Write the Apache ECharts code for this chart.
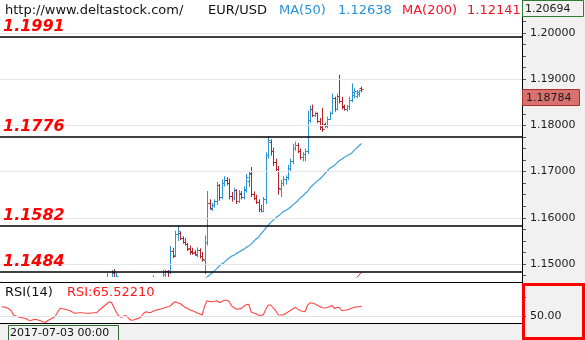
<!DOCTYPE html>
<html>
<head>
<meta charset="utf-8">
<script src="https://cdn.jsdelivr.net/npm/echarts@6/dist/echarts.min.js"></script>
<style>
  html, body { margin: 0; padding: 0; background: #ffffff; }
  #chart { width: 585px; height: 340px; }
</style>
</head>
<body>
<div id="chart"></div>
<script>
// EUR/USD, H4 bars from 2017-07-03 00:00: [open, high, low, close]
const bars = [
  [1.1426,1.1445,1.1418,1.1432],[1.1432,1.1440,1.1405,1.1410],[1.1410,1.1418,1.1385,1.1392],[1.1392,1.1402,1.1372,1.1380],
  [1.1380,1.1395,1.1368,1.1388],[1.1388,1.1396,1.1375,1.1381],[1.1381,1.1390,1.1360,1.1365],[1.1365,1.1378,1.1350,1.1358],
  [1.1358,1.1372,1.1345,1.1366],[1.1366,1.1380,1.1352,1.1362],[1.1362,1.1375,1.1340,1.1348],[1.1348,1.1366,1.1345,1.1357],
  [1.1357,1.1362,1.1322,1.1330],[1.1330,1.1352,1.1312,1.1345],[1.1345,1.1370,1.1338,1.1362],[1.1362,1.1368,1.1345,1.1350],
  [1.1350,1.1372,1.1344,1.1368],[1.1368,1.1376,1.1352,1.1356],[1.1356,1.1395,1.1350,1.1388],[1.1388,1.1420,1.1380,1.1415],
  [1.1415,1.1432,1.1398,1.1405],[1.1405,1.1420,1.1392,1.1410],[1.1410,1.1418,1.1385,1.1398],[1.1398,1.1425,1.1390,1.1418],
  [1.1418,1.1432,1.1405,1.1422],[1.1422,1.1440,1.1412,1.1415],[1.1415,1.1428,1.1400,1.1408],[1.1408,1.1422,1.1395,1.1418],
  [1.1418,1.1430,1.1405,1.1412],[1.1412,1.1425,1.1398,1.1405],[1.1405,1.1415,1.1388,1.1398],[1.1398,1.1412,1.1385,1.1406],
  [1.1406,1.1418,1.1395,1.1401],[1.1401,1.1408,1.1378,1.1390],[1.1390,1.1405,1.1382,1.1398],[1.1398,1.1412,1.1390,1.1404],
  [1.1404,1.1420,1.1398,1.1415],[1.1415,1.1440,1.1408,1.1432],[1.1432,1.1455,1.1425,1.1448],[1.1448,1.1466,1.1440,1.1460],
  [1.1460,1.1470,1.1435,1.1442],[1.1442,1.1462,1.1430,1.1455],[1.1455,1.1468,1.1445,1.1450],[1.1450,1.1481,1.1445,1.1472],
  [1.1468,1.1471,1.1450,1.1462],[1.1462,1.1487,1.1455,1.1480],[1.1482,1.1489,1.1450,1.1458],[1.1458,1.1481,1.1452,1.1475],
  [1.1468,1.1470,1.1440,1.1445],[1.1445,1.1455,1.1425,1.1432],[1.1432,1.1445,1.1418,1.1440],[1.1440,1.1452,1.1428,1.1436],
  [1.1436,1.1442,1.1405,1.1412],[1.1412,1.1425,1.1392,1.1400],[1.1400,1.1418,1.1390,1.1410],[1.1410,1.1445,1.1405,1.1438],
  [1.1438,1.1462,1.1430,1.1455],[1.1455,1.1466,1.1440,1.1448],[1.1448,1.1460,1.1438,1.1452],[1.1452,1.1465,1.1445,1.1458],
  [1.1458,1.1468,1.1448,1.1455],[1.1455,1.1466,1.1450,1.1462],[1.1468,1.1475,1.1450,1.1458],[1.1458,1.1466,1.1448,1.1460],
  [1.1460,1.1470,1.1452,1.1465],[1.1465,1.1470,1.1455,1.1466],[1.1466,1.1487,1.1460,1.1478],[1.1478,1.1488,1.1470,1.1484],
  [1.1484,1.1487,1.1472,1.1482],[1.1482,1.1539,1.1478,1.1528],[1.1528,1.1535,1.1513,1.1518],[1.1520,1.1572,1.1515,1.1566],
  [1.1566,1.1583,1.1550,1.1572],[1.1568,1.1570,1.1552,1.1556],[1.1556,1.1560,1.1544,1.1548],[1.1548,1.1556,1.1540,1.1544],
  [1.1544,1.1546,1.1528,1.1533],[1.1534,1.1540,1.1520,1.1526],[1.1528,1.1535,1.1520,1.1523],[1.1526,1.1530,1.1518,1.1521],
  [1.1519,1.1536,1.1515,1.1530],[1.1530,1.1534,1.1512,1.1518],[1.1518,1.1526,1.1505,1.1510],[1.1508,1.1562,1.1478,1.1548],
  [1.1548,1.1658,1.1540,1.1632],[1.1632,1.1640,1.1618,1.1622],[1.1620,1.1632,1.1615,1.1628],[1.1628,1.1640,1.1622,1.1636],
  [1.1636,1.1678,1.1628,1.1670],[1.1670,1.1673,1.1637,1.1645],[1.1645,1.1683,1.1640,1.1676],[1.1676,1.1690,1.1668,1.1682],
  [1.1682,1.1688,1.1670,1.1675],[1.1676,1.1685,1.1640,1.1648],[1.1648,1.1656,1.1635,1.1642],[1.1642,1.1665,1.1638,1.1660],
  [1.1660,1.1662,1.1630,1.1636],[1.1636,1.1660,1.1632,1.1654],[1.1652,1.1658,1.1640,1.1645],[1.1645,1.1668,1.1640,1.1662],
  [1.1660,1.1695,1.1655,1.1688],[1.1680,1.1700,1.1667,1.1695],[1.1698,1.1710,1.1645,1.1652],[1.1652,1.1657,1.1638,1.1642],
  [1.1642,1.1650,1.1630,1.1635],[1.1635,1.1640,1.1612,1.1618],[1.1620,1.1628,1.1612,1.1615],[1.1615,1.1645,1.1612,1.1640],
  [1.1640,1.1742,1.1630,1.1735],[1.1735,1.1776,1.1728,1.1768],[1.1765,1.1770,1.1735,1.1745],[1.1745,1.1752,1.1712,1.1720],
  [1.1720,1.1728,1.1700,1.1705],[1.1705,1.1712,1.1650,1.1665],[1.1662,1.1682,1.1645,1.1676],[1.1675,1.1690,1.1668,1.1684],
  [1.1684,1.1692,1.1672,1.1688],[1.1688,1.1715,1.1682,1.1708],[1.1708,1.1728,1.1700,1.1722],[1.1722,1.1760,1.1716,1.1752],
  [1.1752,1.1765,1.1745,1.1758],[1.1758,1.1762,1.1740,1.1745],[1.1745,1.1750,1.1726,1.1732],[1.1732,1.1742,1.1722,1.1738],
  [1.1738,1.1750,1.1722,1.1745],[1.1745,1.1832,1.1738,1.1812],[1.1812,1.1843,1.1806,1.1835],[1.1835,1.1845,1.1818,1.1822],
  [1.1822,1.1830,1.1818,1.1828],[1.1826,1.1828,1.1805,1.1810],[1.1810,1.1816,1.1790,1.1797],[1.1800,1.1838,1.1786,1.1792],
  [1.1803,1.1806,1.1795,1.1798],[1.1798,1.1819,1.1794,1.1815],[1.1815,1.1830,1.1812,1.1826],[1.1826,1.1869,1.1824,1.1860],
  [1.1860,1.1862,1.1830,1.1836],[1.1836,1.1869,1.1833,1.1864],[1.1864,1.1910,1.1848,1.1852],[1.1852,1.1862,1.1835,1.1840],
  [1.1842,1.1845,1.1832,1.1835],[1.1835,1.1844,1.1830,1.1841],[1.1841,1.1862,1.1833,1.1856],[1.1856,1.1891,1.1850,1.1872],
  [1.1866,1.1880,1.1859,1.1874],[1.1864,1.1877,1.1859,1.1872],[1.1868,1.1877,1.1862,1.1876],[1.1881,1.1884,1.1872,1.18784]
];

// Moving averages (first bar index where each one starts)
const ma50Start = 70;
const ma50 = [
  1.1426,1.1430,1.1433,1.1436,1.1439,1.1443,1.1446,1.1449,1.1452,1.1456,
  1.1459,1.1462,1.1465,1.1468,1.1472,1.1476,1.1481,1.1485,1.1490,1.1496,
  1.1500,1.1504,1.1509,1.1513,1.1517,1.1519,1.1523,1.1526,1.1529,1.1532,
  1.1536,1.1539,1.1543,1.1549,1.1554,1.1558,1.1565,1.1571,1.1578,1.1584,
  1.1590,1.1595,1.1600,1.1604,1.1608,1.1613,1.1616,1.1619,1.1623,1.1628,
  1.1632,1.1637,1.1643,1.1647,1.1653,1.1657,1.1665,1.1670,1.1675,1.1680,
  1.1684,1.1689,1.1695,1.1701,1.1707,1.1710,1.1714,1.1719,1.1724,1.1727,
  1.1731,1.1734,1.1737,1.1740,1.1746,1.1751,1.1756,1.1761
];
const ma200Start = 144;
const ma200 = [1.1465, 1.1470, 1.1476, 1.1482];

// RSI(14), one value per bar
const rsi14 = [
  64.9,64.5,63.7,62.2,59.2,52.3,50.8,49.2,48.5,47.7,
  46.8,44.6,43.8,44.9,45.7,44.6,43.4,41.8,40.8,43.8,
  45.8,47.7,50.0,56.9,62.6,61.8,61.1,60.0,59.1,56.9,
  55.1,55.4,55.7,55.8,55.4,55.1,54.9,55.4,55.7,55.8,
  60.0,63.1,66.2,69.2,72.6,71.4,63.8,56.2,50.5,48.9,
  50.8,51.5,46.9,44.2,44.6,46.0,46.8,49.2,54.6,57.2,
  56.3,56.2,58.2,59.7,60.6,61.5,62.6,63.8,65.1,66.2,
  70.0,72.6,71.1,70.0,66.9,64.2,62.2,60.0,58.8,57.2,
  55.5,53.8,52.3,66.2,74.2,73.1,72.9,73.5,74.3,71.5,
  72.9,75.1,74.9,73.1,66.3,63.4,61.2,61.7,62.5,65.8,
  68.3,68.9,56.9,55.5,54.2,52.0,51.7,53.1,61.5,67.7,
  67.7,63.1,58.8,52.6,52.3,52.3,54.6,56.9,59.2,61.8,
  63.8,61.4,58.9,58.2,57.4,67.4,70.9,70.8,69.2,67.4,
  65.4,63.4,63.1,63.8,65.1,67.1,62.2,64.2,63.8,58.9,
  59.5,60.0,61.2,62.6,63.8,64.9,65.1,65.5221
];

// Horizontal levels and axis ticks
const levels = [1.1991, 1.1776, 1.1582, 1.1484];
const priceTicks = [1.15, 1.16, 1.17, 1.18, 1.19, 1.20];
const rsiTicks = [50];
const priceMax = 1.20694;
const firstBarTime = '2017-07-03 00:00';
const headerTexts = ['http://www.deltastock.com/', 'EUR/USD'];
const maHeader = [['MA(50)', '1.12638'], ['MA(200)', '1.12141']];

const SLOTS = 213;            // bar slots across the plot, incl. empty space on the right
const PRICE_MIN = 1.147186;
const FONT = '"DejaVu Sans"';
const BLUE = '#2c94d2';
const RED = '#b52327';

const slotNames = Array.from({ length: SLOTS }, (_, i) => String(i));
const ohlcData = bars.map((b, i) => [i, b[0], b[3], b[2], b[1]]);
const ma50Data = ma50.map((v, k) => [ma50Start + k, v]);
const ma200Data = ma200.map((v, k) => [ma200Start + k, v]);
const rsiData = rsi14.map((v, i) => [i, v]);

const minorTicks = [];
for (let k = 0; k <= 23; k++) minorTicks.push(+(1.1475 + k * 0.0025).toFixed(4));

// OHLC bar: high-low stroke, open tick to the left, close tick to the right
function renderOhlc(params, api) {
  const i = api.value(0);
  const o = api.value(1), c = api.value(2);
  const pO = api.coord([i, o]);
  const pC = api.coord([i, c]);
  const pL = api.coord([i, api.value(3)]);
  const pH = api.coord([i, api.value(4)]);
  const x = Math.round(pO[0]) + 0.5;
  const yo = Math.round(pO[1]) + 0.5;
  const yc = Math.round(pC[1]) + 0.5;
  const color = c >= o ? BLUE : RED;
  const st = { stroke: color, lineWidth: 1 };
  return {
    type: 'group',
    children: [
      { type: 'line', shape: { x1: x, y1: pH[1], x2: x, y2: pL[1] }, style: st },
      { type: 'line', shape: { x1: x - 2, y1: yo, x2: x, y2: yo }, style: st },
      { type: 'line', shape: { x1: x, y1: yc, x2: x + 2, y2: yc }, style: st }
    ]
  };
}

const chart = echarts.init(document.getElementById('chart'), null, { renderer: 'canvas' });

chart.setOption({
  animation: false,
  backgroundColor: '#ffffff',
  grid: [
    { left: 0, top: 1, width: 522, height: 276, show: false },
    { left: 0, top: 284, width: 522, height: 39, show: false }
  ],
  xAxis: [
    { type: 'category', gridIndex: 0, data: slotNames, boundaryGap: true, show: false },
    { type: 'category', gridIndex: 1, data: slotNames, boundaryGap: true, show: false }
  ],
  yAxis: [
    {
      type: 'value', gridIndex: 0, position: 'right', min: PRICE_MIN, max: priceMax,
      axisLine: { show: false },
      axisTick: { show: true, inside: false, length: 4, customValues: minorTicks, lineStyle: { color: '#555555' } },
      axisLabel: {
        customValues: priceTicks, formatter: v => v.toFixed(5), margin: 8,
        color: '#1c1c1c', fontFamily: FONT, fontSize: 11
      },
      splitLine: { show: false }
    },
    {
      type: 'value', gridIndex: 1, position: 'right', min: 40, max: 100,
      axisLine: { show: false },
      axisTick: { show: true, length: 4, customValues: [50, 80], lineStyle: { color: '#555555' } },
      axisLabel: {
        customValues: rsiTicks, formatter: v => v.toFixed(2), margin: 8,
        color: '#1c1c1c', fontFamily: FONT, fontSize: 11
      },
      splitLine: { show: false }
    }
  ],
  series: [
    {
      name: 'MA(200)', type: 'line', xAxisIndex: 0, yAxisIndex: 0, data: ma200Data, z: 1,
      showSymbol: false, lineStyle: { color: '#e8242a', width: 1 }, clip: true,
      markLine: {
        silent: true, symbol: ['none', 'none'], animation: false, precision: 6, label: { show: false },
        lineStyle: { color: '#e6e6e6', width: 1, type: 'solid' },
        data: priceTicks.map(v => ({ yAxis: v }))
      }
    },
    {
      name: 'EUR/USD', type: 'custom', xAxisIndex: 0, yAxisIndex: 0, clip: true, z: 3,
      renderItem: renderOhlc, data: ohlcData,
      encode: { x: 0, y: [1, 2, 3, 4] }
    },
    {
      name: 'MA(50)', type: 'line', xAxisIndex: 0, yAxisIndex: 0, data: ma50Data, z: 2,
      showSymbol: false, clip: true, lineStyle: { color: '#3a9fdc', width: 1.2 },
      markLine: {
        silent: true, symbol: ['none', 'none'], animation: false, precision: 6,
        lineStyle: { color: '#000000', width: 1.5, type: 'solid' },
        label: {
          show: true, position: 'insideStartTop', distance: [3, 2],
          formatter: p => Number(p.value).toFixed(4),
          color: '#ff0000', fontFamily: FONT, fontWeight: 'bold', fontStyle: 'italic', fontSize: 16
        },
        data: levels.map(v => ({ yAxis: v }))
      }
    },
    {
      name: 'RSI(14)', type: 'line', xAxisIndex: 1, yAxisIndex: 1, data: rsiData,
      showSymbol: false, clip: true, lineStyle: { color: '#ff4444', width: 1.1 },
      markLine: {
        silent: true, symbol: ['none', 'none'], animation: false, precision: 6, label: { show: false },
        lineStyle: { color: '#e4e4e4', width: 1, type: 'solid' },
        data: [{ yAxis: 50 }]
      }
    }
  ]
});

// Panel frames, header and price tags
const lastClose = bars[bars.length - 1][3];
const yLast = chart.convertToPixel({ yAxisIndex: 0 }, lastClose);
const txt = (x, y, text, fill, size) => ({
  type: 'text', z: 50, silent: true,
  style: { x: x, y: y, text: text, fill: fill, font: size + 'px ' + FONT, verticalAlign: 'middle', align: 'left' }
});

chart.setOption({
  graphic: [
    { type: 'rect', z: -10, silent: true, shape: { x: 522, y: 0, width: 63, height: 340 }, style: { fill: '#f1f1f1' } },
    { type: 'rect', z: -10, silent: true, shape: { x: 0, y: 323, width: 522, height: 17 }, style: { fill: '#f1f1f1' } },
    { type: 'line', z: 40, silent: true, shape: { x1: 522.5, y1: 0, x2: 522.5, y2: 340 }, style: { stroke: '#000', lineWidth: 1 } },
    { type: 'line', z: 40, silent: true, shape: { x1: 0, y1: 282.5, x2: 522, y2: 282.5 }, style: { stroke: '#000', lineWidth: 1 } },
    { type: 'line', z: 40, silent: true, shape: { x1: 0, y1: 323.5, x2: 522, y2: 323.5 }, style: { stroke: '#000', lineWidth: 1 } },
    // header
    txt(5, 11, headerTexts[0], '#111111', 13),
    txt(208, 11, headerTexts[1], '#111111', 13),
    txt(279, 11, maHeader[0][0], '#2592dc', 13),
    txt(338, 11, maHeader[0][1], '#2592dc', 13),
    txt(402, 11, maHeader[1][0], '#f01428', 13),
    txt(467, 11, maHeader[1][1], '#f01428', 13),
    // top value tag
    { type: 'rect', z: 45, silent: true, shape: { x: 522.5, y: 0.5, width: 61, height: 16 }, style: { fill: '#f1f1f1', stroke: '#2e7d32', lineWidth: 1 } },
    txt(525, 9, priceMax.toFixed(5), '#1c1c1c', 11),
    // last price tag
    { type: 'rect', z: 45, silent: true, shape: { x: 522.5, y: Math.round(yLast) + 0.5, width: 57, height: 16 }, style: { fill: '#d9716f', stroke: '#a83232', lineWidth: 1 } },
    txt(526, Math.round(yLast) + 9, lastClose.toFixed(5), '#1c1c1c', 11),
    // RSI panel
    txt(5, 292.5, 'RSI(14)', '#111111', 13),
    txt(67, 292.5, 'RSI:' + rsi14[rsi14.length - 1].toFixed(5), '#ff1a1a', 13),
    { type: 'rect', z: 45, silent: true, shape: { x: 523.5, y: 284.5, width: 60, height: 54 }, style: { fill: 'none', stroke: '#ff0000', lineWidth: 3 } },
    // time tag
    { type: 'rect', z: 45, silent: true, shape: { x: 8.5, y: 325.5, width: 110, height: 16 }, style: { fill: '#f1f1f1', stroke: '#2e6b2e', lineWidth: 1 } },
    txt(10, 333, firstBarTime, '#111111', 11)
  ]
});
</script>
</body>
</html>
